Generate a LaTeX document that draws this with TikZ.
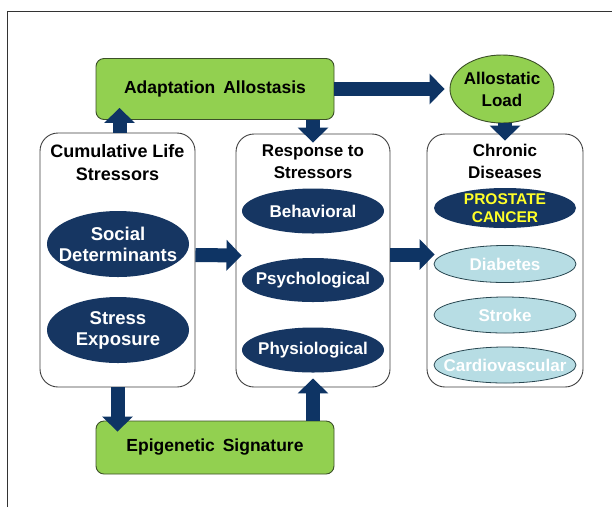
\documentclass[tikz,border=0pt]{standalone}
\usepackage{fontspec}
\setmainfont{Liberation Sans}
\usetikzlibrary{arrows.meta,shapes.geometric}
\definecolor{navy}{RGB}{22,54,98}
\definecolor{arrowblue}{RGB}{14,52,100}
\definecolor{lgreen}{RGB}{146,208,80}
\definecolor{gborder}{RGB}{60,80,40}
\definecolor{lcyan}{RGB}{183,221,228}
\definecolor{cborder}{RGB}{40,70,80}
\definecolor{pcyellow}{RGB}{255,255,40}
\begin{document}
\begin{tikzpicture}[x=1pt,y=-1pt,
  font=\bfseries,
  greenbox/.style={draw=gborder, fill=lgreen, rounded corners=8pt, line width=0.9pt, inner sep=0pt},
  groupbox/.style={draw=black!75, fill=white, rounded corners=18pt, line width=0.9pt, inner sep=0pt},
  darkell/.style={ellipse, fill=navy, inner sep=0pt, minimum width=142pt},
  lightell/.style={ellipse, draw=cborder, fill=lcyan, line width=0.8pt, inner sep=0pt, minimum width=142pt},
  elltext/.style={text=white, align=center, inner sep=0pt, font=\fontsize{17}{20.5}\selectfont\bfseries},
  bigelltext/.style={text=white, align=center, inner sep=0pt, font=\fontsize{18.5}{21}\selectfont\bfseries},
  titletext/.style={align=center, inner sep=0pt, font=\fontsize{17}{22}\selectfont\bfseries},
  bigarrow/.style={draw=arrowblue, line width=14pt, -{Triangle[width=30pt,length=15pt]}}
]
\useasboundingbox (0,0) rectangle (612,507);
\fill[white] (0,0) rectangle (612,507);
\draw[line width=1pt, black!80] (7,507) -- (7,11) -- (612,11);

% top and bottom green items
\node[greenbox, minimum width=238pt, minimum height=61pt, font=\fontsize{17.5}{21}\selectfont\bfseries] (adapt) at (215,89) {Adaptation\hspace{0.45em}Allostasis};
\node[ellipse, draw=gborder, fill=lgreen, line width=0.9pt, minimum width=104pt, minimum height=68pt, inner sep=0pt] (allo) at (502,89) {};
\node[align=center, inner sep=0pt, font=\fontsize{17}{22}\selectfont\bfseries] (allot) at (allo.center) {Allostatic\\Load};
\node[greenbox, minimum width=238pt, minimum height=53pt, font=\fontsize{17.5}{21}\selectfont\bfseries] (epi) at (215,447.5) {Epigenetic\hspace{0.45em}Signature};

% group boxes
\node[groupbox, minimum width=155pt, minimum height=254pt] (cum) at (117.5,260) {};
\node[groupbox, minimum width=154pt, minimum height=253pt] (resp) at (313,260.5) {};
\node[groupbox, minimum width=156pt, minimum height=253pt] (chron) at (505,260.5) {};

\node[titletext, font=\fontsize{18}{23}\selectfont\bfseries] (cumt) at (117.5,163) {Cumulative Life\\Stressors};
\node[titletext] (respt) at (313,162) {Response to\\Stressors};
\node[titletext] (chront) at (505,161) {Chronic\\Diseases};

% ellipses
\node[darkell, minimum height=66pt] (social) at (118,244) {};
\node[bigelltext] (socialt) at (social.center) {Social\\Determinants};
\node[darkell, minimum height=66pt] (stress) at (118,330) {};
\node[bigelltext] (stresst) at (stress.center) {Stress\\Exposure};

\node[darkell, minimum height=45pt] (beh) at (313,211) {};
\node[elltext] (beht) at (beh.center) {Behavioral};
\node[darkell, minimum height=44pt] (psy) at (313,280) {};
\node[elltext] (psyt) at (psy.center) {Psychological};
\node[darkell, minimum height=45pt] (phy) at (313,350) {};
\node[elltext] (phyt) at (phy.center) {Physiological};

\node[darkell, minimum height=40pt] (pc) at (505,208) {};
\node[elltext, text=pcyellow, font=\fontsize{15.5}{17.5}\selectfont\bfseries] (pct) at (pc.center) {PROSTATE\\CANCER};
\node[lightell, minimum height=37pt] (dia) at (505,264) {};
\node[elltext] (diat) at (dia.center) {Diabetes};
\node[lightell, minimum height=36pt] (str) at (505,315) {};
\node[elltext] (strt) at (str.center) {Stroke};
\node[lightell, minimum height=36pt] (car) at (505,365) {};
\node[elltext] (cart) at (car.center) {Cardiovascular};

% arrows
\draw[bigarrow] (adapt.east) -- ([xshift=-5pt]allo.west);
\draw[bigarrow] (chron.north |- allo.south) -- ([yshift=-7pt]chron.north);
\draw[bigarrow] ([xshift=2pt]cum.north) -- ([xshift=2pt,yshift=12pt]cum.north |- adapt.south);
\draw[bigarrow] (resp.north |- adapt.south) -- ([yshift=-9pt]resp.north);
\draw[bigarrow] ([yshift=5pt]cum.east) -- ([xshift=6pt,yshift=5pt]resp.west);
\draw[bigarrow] ([yshift=6pt]resp.east) -- ([xshift=8pt,yshift=6pt]chron.west);
\draw[bigarrow] (cum.south) -- ([yshift=-11pt]cum.south |- epi.north);
\draw[bigarrow] (resp.south |- epi.north) -- ([yshift=9pt]resp.south);
\end{tikzpicture}
\end{document}
